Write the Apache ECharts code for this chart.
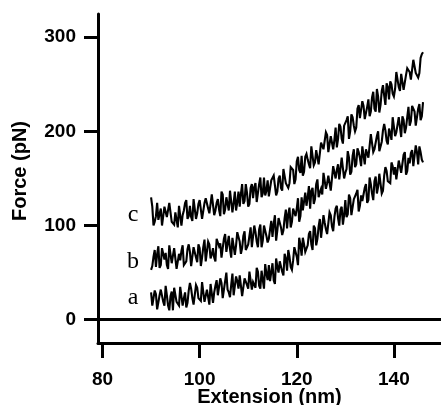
<!DOCTYPE html>
<html>
<head>
<meta charset="utf-8">
<script src="https://cdn.jsdelivr.net/npm/echarts@6/dist/echarts.min.js"></script>
<style>html,body{margin:0;padding:0;background:#fff}#c{width:441px;height:405px}</style>
</head>
<body>
<div id="c"></div>
<script>
const extension = [
90,90.25,90.5,90.75,91,91.25,91.5,91.75,92,92.25,92.5,92.75,93,93.25,93.5,93.75,94,94.25,94.5,94.75,
95,95.25,95.5,95.75,96,96.25,96.5,96.75,97,97.25,97.5,97.75,98,98.25,98.5,98.75,99,99.25,99.5,99.75,
100,100.25,100.5,100.75,101,101.25,101.5,101.75,102,102.25,102.5,102.75,103,103.25,103.5,103.75,104,104.25,104.5,104.75,
105,105.25,105.5,105.75,106,106.25,106.5,106.75,107,107.25,107.5,107.75,108,108.25,108.5,108.75,109,109.25,109.5,109.75,
110,110.25,110.5,110.75,111,111.25,111.5,111.75,112,112.25,112.5,112.75,113,113.25,113.5,113.75,114,114.25,114.5,114.75,
115,115.25,115.5,115.75,116,116.25,116.5,116.75,117,117.25,117.5,117.75,118,118.25,118.5,118.75,119,119.25,119.5,119.75,
120,120.25,120.5,120.75,121,121.25,121.5,121.75,122,122.25,122.5,122.75,123,123.25,123.5,123.75,124,124.25,124.5,124.75,
125,125.25,125.5,125.75,126,126.25,126.5,126.75,127,127.25,127.5,127.75,128,128.25,128.5,128.75,129,129.25,129.5,129.75,
130,130.25,130.5,130.75,131,131.25,131.5,131.75,132,132.25,132.5,132.75,133,133.25,133.5,133.75,134,134.25,134.5,134.75,
135,135.25,135.5,135.75,136,136.25,136.5,136.75,137,137.25,137.5,137.75,138,138.25,138.5,138.75,139,139.25,139.5,139.75,
140,140.25,140.5,140.75,141,141.25,141.5,141.75,142,142.25,142.5,142.75,143,143.25,143.5,143.75,144,144.25,144.5,144.75,
145,145.25,145.5,145.75,146];
const forceA = [
29,15,13,31,27,11,10,26,32,34,19,15,36,26,15,10,25,30,10,34,
33,19,18,15,35,37,15,23,29,13,18,31,39,33,23,16,15,37,34,23,
22,20,40,42,19,19,32,31,16,38,38,18,29,36,42,26,24,44,39,23,
22,41,50,32,29,24,37,49,26,28,46,41,33,47,49,25,25,44,44,37,
33,51,53,32,40,37,34,55,51,36,33,52,51,33,59,49,42,58,41,43,
60,42,38,65,56,50,62,63,51,47,70,65,52,74,67,56,53,63,77,78,
67,58,87,80,68,87,80,72,70,79,91,94,80,74,100,97,79,86,99,107,
87,87,111,103,96,91,93,114,111,99,94,109,118,121,108,100,117,120,101,111,
127,109,112,133,129,111,112,128,127,134,138,115,121,132,126,124,140,144,124,127,
151,144,134,127,147,152,134,141,155,154,134,137,153,162,158,147,145,145,167,163,
154,162,149,147,169,171,156,157,175,178,154,158,172,166,177,180,163,161,185,178,
165,184,178,170,167];
const forceB = [
53,57,67,74,56,70,78,55,58,76,74,64,71,58,54,79,77,60,60,76,
75,54,56,70,63,73,79,58,59,62,75,80,72,57,56,77,79,66,61,80,
76,57,66,77,85,62,61,83,80,65,69,76,66,62,86,84,78,81,66,67,
86,91,72,70,89,75,66,87,85,69,79,93,91,83,70,76,89,94,74,74,
80,89,98,77,78,100,93,83,77,96,101,77,84,100,99,89,82,86,96,105,
88,102,111,84,95,108,109,98,90,95,108,117,97,112,119,98,104,118,120,110,
118,129,104,110,130,116,115,135,121,130,142,118,137,140,123,128,144,149,130,135,
139,133,156,156,139,145,153,155,137,138,163,163,150,159,165,149,148,172,161,150,
156,160,179,172,154,157,174,181,162,165,182,178,172,163,184,186,165,181,183,172,
173,197,196,178,181,183,195,200,179,181,189,201,208,201,190,186,203,198,191,215,
214,195,199,200,215,217,194,216,212,198,204,215,226,206,211,227,226,221,206,207,
224,229,212,216,231];
const forceC = [
130,120,100,104,110,124,106,108,118,100,101,120,121,109,108,124,123,104,102,101,
114,116,98,121,119,100,111,116,124,127,107,110,121,109,105,128,129,107,113,123,
127,126,107,106,124,129,129,118,113,111,133,133,111,116,124,128,117,110,136,133,
112,117,130,128,116,137,136,114,124,136,116,125,136,120,134,144,123,126,144,135,
120,123,140,144,129,141,145,125,127,144,151,130,134,151,132,137,148,131,130,148,
146,153,154,132,136,150,153,140,137,160,162,145,146,140,145,162,162,159,144,149,
168,173,159,156,174,153,157,173,176,170,165,161,184,185,164,167,180,182,165,166,
188,190,181,180,199,196,178,177,195,196,181,191,204,183,192,208,205,192,187,206,
206,212,216,192,200,218,215,206,200,204,224,228,214,215,232,227,213,211,226,234,
216,221,236,242,224,221,245,237,220,228,243,249,238,228,251,247,234,253,250,240,
237,245,263,263,247,243,261,261,244,244,260,267,269,263,255,253,276,276,262,264,
257,262,278,282,284];
const traceNames = ['a', 'b', 'c'];
const labelX = [86.3, 86.3, 86.3];
const labelY = [23.5, 61.5, 112];
const xTicks = [80, 100, 120, 140];
const yTicks = [0, 100, 200, 300];
const xTitle = 'Extension (nm)';
const yTitle = 'Force (pN)';

const traces = [forceA, forceB, forceC];
const chart = echarts.init(document.getElementById('c'), null, {renderer: 'canvas'});
const sansBold = {fontFamily: 'Liberation Sans', fontWeight: 'bold', color: '#000'};

const series = traces.map((vals, k) => ({
  type: 'line',
  name: traceNames[k],
  data: extension.map((x, i) => [x, vals[i]]),
  showSymbol: false,
  symbol: 'none',
  sampling: null,
  lineStyle: {color: '#000', width: 2.1, join: 'miter', miterLimit: 4},
  silent: true,
  animation: false,
  markPoint: {
    symbol: 'circle', symbolSize: 1,
    itemStyle: {color: 'rgba(0,0,0,0)'},
    silent: true, animation: false,
    label: {show: true, position: 'inside', formatter: traceNames[k], color: '#000',
      fontFamily: 'Liberation Serif', fontSize: 24},
    data: [{coord: [labelX[k], labelY[k]]}]
  },
  markLine: k === 0 ? {
    symbol: ['none', 'none'], silent: true, animation: false,
    label: {show: false},
    lineStyle: {color: '#000', width: 3, type: 'solid'},
    data: [{yAxis: 0}]
  } : undefined
}));

chart.setOption({
  animation: false,
  backgroundColor: '#fff',
  grid: {left: 98, right: 0, top: 14, bottom: 62, containLabel: false, outerBoundsMode: 'none'},
  xAxis: {
    type: 'value', min: 79.07, max: 149.7,
    name: xTitle, nameLocation: 'middle', nameGap: 44, nameMoveOverlap: false,
    nameTextStyle: Object.assign({fontSize: 20}, sansBold),
    axisLine: {show: true, onZero: false, lineStyle: {color: '#000', width: 3}},
    axisTick: {show: true, length: 15, lineStyle: {color: '#000', width: 3}, customValues: xTicks},
    axisLabel: Object.assign({show: true, fontSize: 19, margin: 27, customValues: xTicks, showMinLabel: true, showMaxLabel: true}, sansBold),
    splitLine: {show: false}
  },
  yAxis: {
    type: 'value', min: -24.7, max: 324.6,
    axisLine: {show: true, onZero: false, lineStyle: {color: '#000', width: 3}},
    axisTick: {show: true, length: 14, lineStyle: {color: '#000', width: 3}, customValues: yTicks},
    axisLabel: Object.assign({show: true, fontSize: 19, margin: 22, customValues: yTicks}, sansBold),
    splitLine: {show: false}
  },
  graphic: [{
    type: 'text', x: 20, y: 171, rotation: Math.PI / 2,
    style: {text: yTitle, font: 'bold 20px "Liberation Sans"', fill: '#000', align: 'center', verticalAlign: 'middle'}
  }],
  series: series
});
</script>
</body>
</html>
